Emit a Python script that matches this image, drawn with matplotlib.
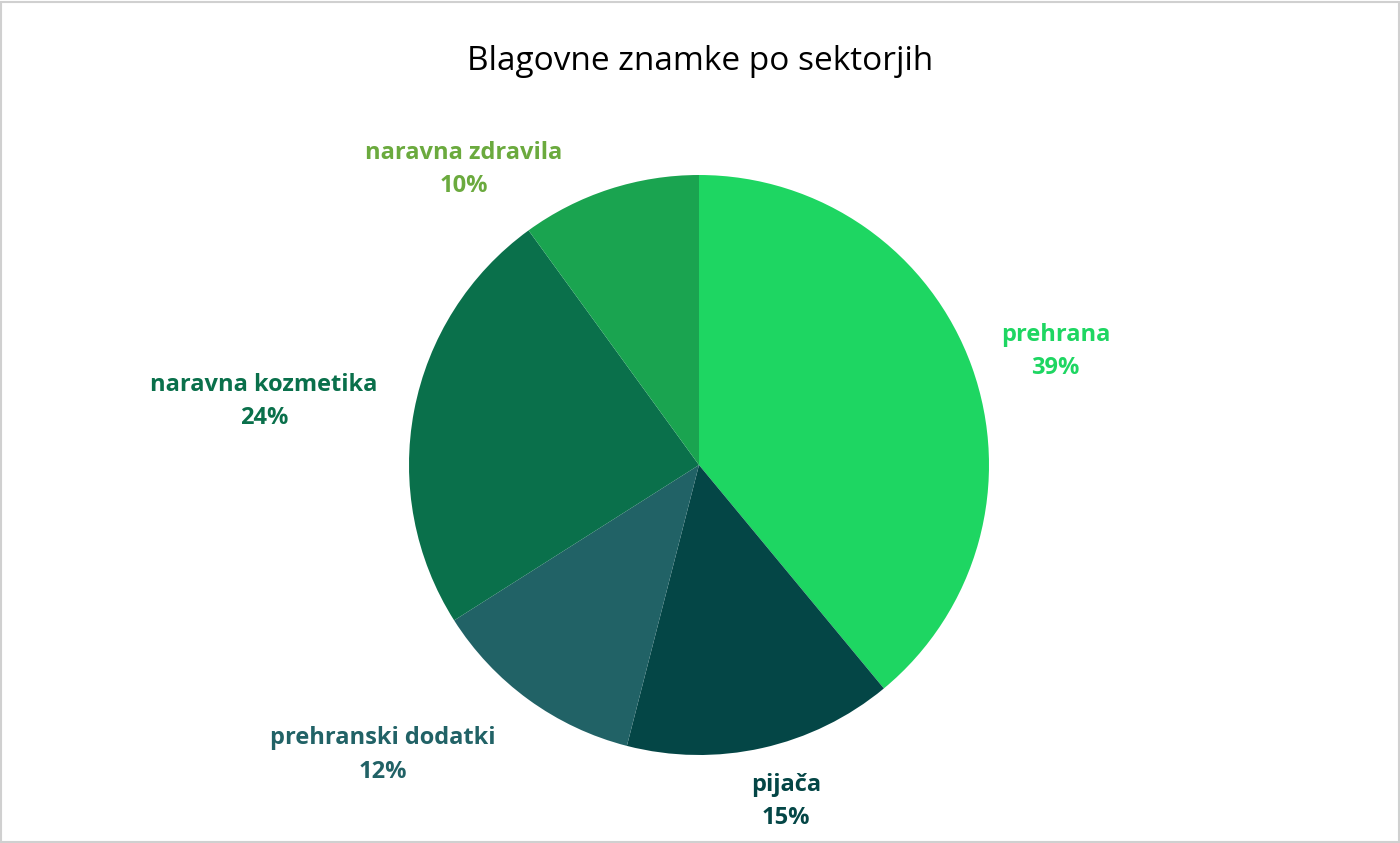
import matplotlib
matplotlib.use("Agg")
import matplotlib.pyplot as plt
from matplotlib.patches import Rectangle

categories = ["prehrana", "pijača", "prehranski dodatki", "naravna kozmetika", "naravna zdravila"]
values = [39, 15, 12, 24, 10]
colors = ["#1ED662", "#044646", "#216266", "#0A704B", "#1AA450"]
label_colors = ["#1ED662", "#044646", "#216266", "#0A704B", "#6BAA3E"]
label_pos = [(1.23, 0.39), (0.30, -1.16), (-1.09, -1.0), (-1.50, 0.22), (-0.81, 1.02)]

plt.rcParams['font.family'] = ['Open Sans', 'DejaVu Sans']
fig = plt.figure(figsize=(14, 8.43), dpi=100)
fig.patches.append(Rectangle((0.001, 0.001), 0.998, 0.997, transform=fig.transFigure,
                             fill=False, edgecolor="#D0D0D0", linewidth=1.5))
w, h = 580 / 1400, 580 / 843
cx, cy = 699 / 1400, 1 - 465 / 843
ax = fig.add_axes([cx - w / 2, cy - h / 2, w, h])
ax.pie(values, colors=colors, startangle=90, counterclock=False,
       wedgeprops=dict(linewidth=0))
ax.set_xlim(-1, 1); ax.set_ylim(-1, 1); ax.set_aspect('equal')
for c, v, col, (x, y) in zip(categories, values, label_colors, label_pos):
    ax.text(x, y, f"{c}\n{v}%", ha='center', va='center', color=col,
            fontsize=17, fontweight='bold', linespacing=1.5, clip_on=False)
fig.text(0.5, 1 - 62 / 843, "Blagovne znamke po sektorjih", ha='center', va='center',
         fontsize=24, color="#000000")
fig.savefig("out.png", dpi=100)
